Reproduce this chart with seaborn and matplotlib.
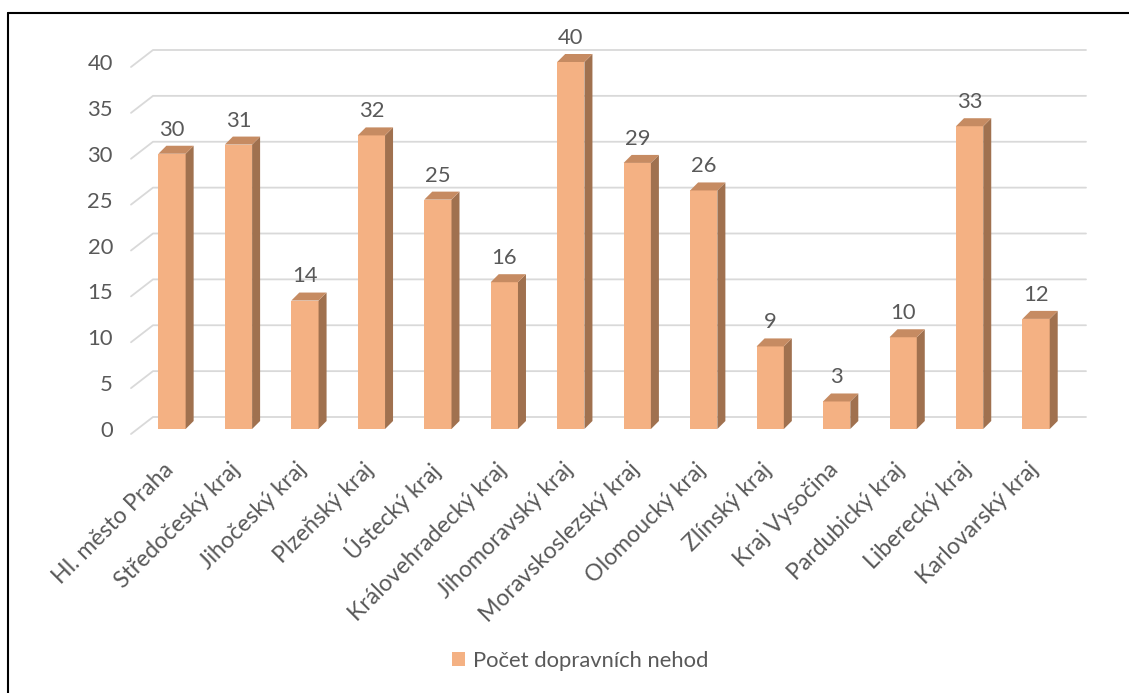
import matplotlib
matplotlib.use("Agg")
import matplotlib.pyplot as plt
import matplotlib.transforms as mtransforms
from matplotlib.patches import Polygon, Patch
from matplotlib.lines import Line2D
import seaborn as sns
import pandas as pd

# Number of traffic accidents per region
regions = [
    "Hl. město Praha", "Středočeský kraj", "Jihočeský kraj", "Plzeňský kraj",
    "Ústecký kraj", "Královehradecký kraj", "Jihomoravský kraj",
    "Moravskoslezský kraj", "Olomoucký kraj", "Zlínský kraj", "Kraj Vysočina",
    "Pardubický kraj", "Liberecký kraj", "Karlovarský kraj",
]
counts = [30, 31, 14, 32, 25, 16, 40, 29, 26, 9, 3, 10, 33, 12]
series_name = "Počet dopravních nehod"
y_ticks = [0, 5, 10, 15, 20, 25, 30, 35, 40]

FRONT = "#F4B183"
SIDE = "#A0714F"
TOP = "#C68B62"
GRID = "#D9D9D9"
TEXT = "#595959"
FS = 15.8
FS_CAT = 16.6

sns.set_theme(style="white")
plt.rcParams["font.family"] = ["Lato", "DejaVu Sans"]

W, H, DPI = 1129, 693, 100
fig = plt.figure(figsize=(W / DPI, H / DPI), dpi=DPI)
fig.patch.set_facecolor("white")

# front plane of the plot area, in pixels
left_px, right_px = 131, 1064
bottom_px, top_px = 429, 62
ax = fig.add_axes([left_px / W, 1 - bottom_px / H,
                   (right_px - left_px) / W, (bottom_px - top_px) / H])

df = pd.DataFrame({"region": regions, "count": counts})
sns.barplot(data=df, x="region", y="count", color=FRONT, saturation=1,
            width=0.41, linewidth=0, ax=ax, zorder=3)

ax.set_xlim(-0.617, 13.42)
ax.set_ylim(0, 40)
for s in ax.spines.values():
    s.set_visible(False)
ax.set_xlabel("")
ax.set_ylabel("")
ax.set_facecolor("none")
ax.tick_params(axis="both", length=0)
ax.set_yticks(y_ticks)
ax.set_yticklabels([str(t) for t in y_ticks], fontsize=FS, color=TEXT)
ax.tick_params(axis="y", pad=13)
ax.set_xticks(range(len(regions)))
ax.set_xticklabels(regions, fontsize=FS_CAT, color=TEXT)
ax.tick_params(axis="x", pad=27)
shift = mtransforms.ScaledTranslation(-1 / 72, 0, fig.dpi_scale_trans)
for lab in ax.get_xticklabels():
    lab.set_rotation(45)
    lab.set_ha("right")
    lab.set_va("center")
    lab.set_rotation_mode("anchor")
    lab.set_transform(lab.get_transform() + shift)

fig.canvas.draw()
ident = mtransforms.IdentityTransform()

# perspective gridlines: short slanted segment on the floor, then along the back wall
depth_dx = 22
for t in y_ticks:
    _, yd = ax.transData.transform((0, t))
    x0 = ax.transAxes.transform((0, 0))[0]
    xs = [x0, x0 + depth_dx, 1086]
    ys = [yd - 5, yd + 12, yd + 12]
    fig.add_artist(Line2D(xs, ys, transform=ident, color=GRID, lw=1.3, zorder=0))

# side and top faces for every bar
bdx, bdy = 8, 8
for bar, val in zip(ax.patches, counts):
    x0, y0 = ax.transData.transform((bar.get_x(), 0))
    x1, y1 = ax.transData.transform((bar.get_x() + bar.get_width(), val))
    side = Polygon([(x1, y0), (x1 + bdx, y0 + bdy), (x1 + bdx, y1 + bdy), (x1, y1)],
                   closed=True, transform=ident, facecolor=SIDE, edgecolor="none", zorder=4)
    top = Polygon([(x0, y1), (x0 + bdx, y1 + bdy), (x1 + bdx, y1 + bdy), (x1, y1)],
                  closed=True, transform=ident, facecolor=TOP, edgecolor="none", zorder=4)
    fig.add_artist(side)
    fig.add_artist(top)
    ax.annotate(str(val), (bar.get_x() + bar.get_width() / 2, val),
                xytext=(0, 13), textcoords="offset points", ha="center", va="baseline",
                fontsize=FS, color=TEXT, annotation_clip=False)

# legend
fig.legend(handles=[Patch(facecolor=FRONT, edgecolor="none", label=series_name)],
           loc="center", bbox_to_anchor=(580 / W, 1 - 661 / H), frameon=False,
           fontsize=FS, labelcolor=TEXT, handlelength=0.6, handleheight=0.6,
           handletextpad=0.35)

# chart frame (top and left edges)
fig.add_artist(Line2D([8, W], [H - 13, H - 13], transform=ident, color="black", lw=1.5))
fig.add_artist(Line2D([8, 8], [0, H - 13], transform=ident, color="black", lw=1.5))

fig.savefig("out.png", dpi=DPI)
